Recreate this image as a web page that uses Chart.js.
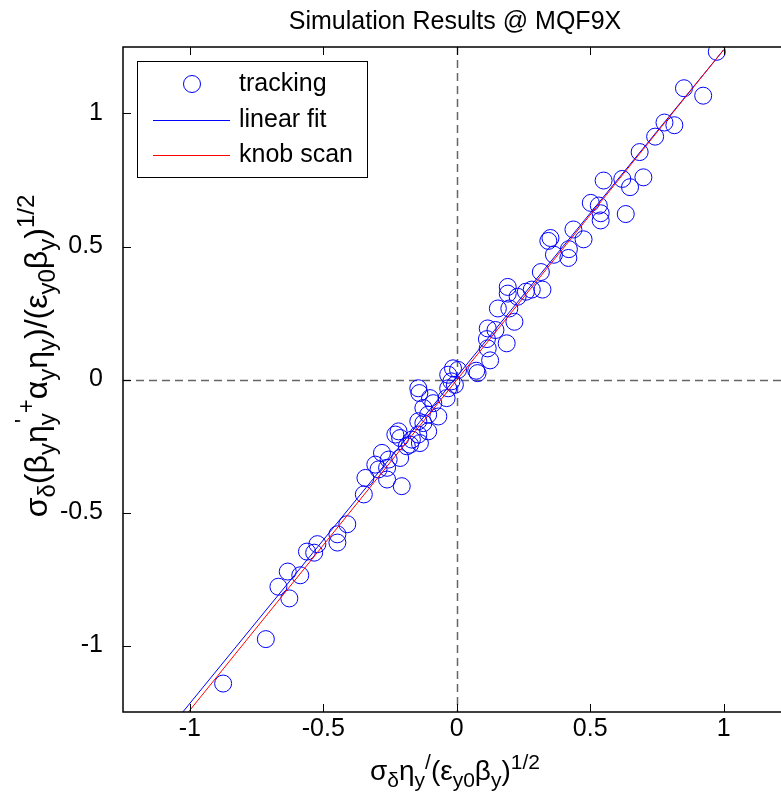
<!DOCTYPE html>
<html lang="en">
<head>
  <meta charset="UTF-8">
  <title>Simulation Results @ MQF9X</title>
  <script src="https://cdn.jsdelivr.net/npm/chart.js@4.4.1/dist/chart.umd.min.js"></script>
  <style>
    html, body {
      margin: 0;
      padding: 0;
      background: #fff;
      overflow: hidden;
    }

    .wrap {
      position: relative;
      width: 800px;
      height: 800px;
    }
  </style>
</head>
<body>

  <div class="wrap">
    <canvas id="scanChart" width="800" height="800"></canvas>
  </div>

  <script>
    // tracking results (normalised dispersion vs. normalised dispersion + slope)
    const trackX = [
      0.974, 0.851, 0.923, 0.778, 0.815, 0.743, 0.685, 0.550, 0.620, 0.649,
      0.699, 0.502, 0.532, 0.539, 0.539, 0.633, 0.437, 0.475, 0.351, 0.343,
      0.364, 0.420, 0.418, 0.315, 0.321, 0.281, 0.191, 0.191, 0.228, 0.259,
      0.154, 0.197, 0.216, 0.116, 0.145, 0.113, 0.116, 0.187, 0.125, 0.073,
      0.078, -0.014, 0.005, -0.032, -0.020, -0.007, -0.032, -0.144, -0.140, -0.100,
      -0.088, -0.038, -0.125, -0.069, -0.107, -0.125, -0.144, -0.107, -0.144, -0.138,
      -0.168, -0.175, -0.218, -0.230, -0.212, -0.187, -0.280, -0.255, -0.212, -0.261,
      -0.305, -0.293, -0.261, -0.206, -0.342, -0.348, -0.410, -0.447, -0.447, -0.522,
      -0.561, -0.534, -0.633, -0.586, -0.668, -0.627, -0.715, -0.875
    ];
    const trackY = [
      1.232, 1.095, 1.067, 0.966, 0.956, 0.913, 0.855, 0.748, 0.754, 0.723,
      0.760, 0.664, 0.654, 0.625, 0.598, 0.622, 0.564, 0.527, 0.532, 0.521,
      0.469, 0.490, 0.457, 0.404, 0.338, 0.338, 0.348, 0.323, 0.311, 0.330,
      0.267, 0.267, 0.217, 0.192, 0.186, 0.152, 0.117, 0.136, 0.072, 0.033,
      0.024, 0.042, 0.036, 0.018, -0.007, -0.020, -0.033, -0.033, -0.051, -0.070,
      -0.089, -0.070, -0.107, -0.139, -0.132, -0.164, -0.157, -0.195, -0.207, -0.239,
      -0.226, -0.245, -0.195, -0.207, -0.220, -0.251, -0.276, -0.301, -0.295, -0.332,
      -0.320, -0.338, -0.376, -0.401, -0.370, -0.432, -0.544, -0.582, -0.613, -0.619,
      -0.647, -0.651, -0.722, -0.736, -0.779, -0.823, -0.976, -1.143
    ];

    // end points of the two straight lines
    const fitX = [-1.026, 1.0];
    const fitY = [-1.25, 1.24];
    const knobX = [-1.005, 1.0];
    const knobY = [-1.25, 1.24];

    const xTicks = [-1, -0.5, 0, 0.5, 1];
    const yTicks = [-1, -0.5, 0, 0.5, 1];
    const xRange = [-1.25, 1.25];
    const yRange = [-1.25, 1.25];

    const FONT = '"Liberation Sans", Arial, Helvetica, sans-serif';

    // axis label pieces: [text, kind, stacked]  kind 0 normal, 1 subscript, 2 superscript
    const xLabelParts = [
      ['σ', 0], ['δ', 1], ['η', 0], ['y', 1], ['/', 2], ['(', 0], ['ε', 0],
      ['y0', 1], ['β', 0], ['y', 1], [')', 0], ['1/2', 2]
    ];
    const yLabelParts = [
      ['σ', 0], ['δ', 1], ['(', 0], ['β', 0], ['y', 1], ['η', 0], ['y', 1, "'"],
      ['+', 2], ['α', 0], ['y', 1], ['η', 0], ['y', 1], [')', 0], ['/', 0], ['(', 0],
      ['ε', 0], ['y0', 1], ['β', 0], ['y', 1], [')', 0], ['1/2', 2]
    ];

    // sz = [main size, script size, sub drop, sup rise]
    function drawRich(ctx, parts, cx, base, sz) {
      const font = k => (k ? sz[1] : sz[0]) + 'px ' + FONT;
      let total = 0;
      parts.forEach(p => {
        ctx.font = font(p[1]);
        total += ctx.measureText(p[0]).width;
      });
      let x = cx - total / 2;
      ctx.textAlign = 'left';
      ctx.textBaseline = 'alphabetic';
      parts.forEach(p => {
        ctx.font = font(p[1]);
        const dy = p[1] === 1 ? sz[2] : p[1] === 2 ? -sz[3] : 0;
        ctx.fillText(p[0], x, base + dy);
        if (p[2]) ctx.fillText(p[2], x + 2, base - sz[3] - 2);
        x += ctx.measureText(p[0]).width;
      });
    }

    function line(ctx, x1, y1, x2, y2) {
      ctx.beginPath();
      ctx.moveTo(x1, y1);
      ctx.lineTo(x2, y2);
      ctx.stroke();
    }

    const decor = {
      id: 'decor',
      beforeDatasetsDraw(chart) {
        const { ctx, chartArea: a, scales: { x, y } } = chart;
        const x0 = Math.round(x.getPixelForValue(0)) + 0.5;
        const y0 = Math.round(y.getPixelForValue(0)) + 0.5;
        ctx.save();
        ctx.strokeStyle = '#666';
        ctx.lineWidth = 1.5;
        ctx.setLineDash([8, 5]);
        line(ctx, a.left, y0, a.right, y0);
        line(ctx, x0, a.top, x0, a.bottom);
        ctx.restore();
      },
      afterDatasetsDraw(chart) {
        const { ctx, chartArea: a, scales: { x, y } } = chart;
        ctx.save();
        ctx.strokeStyle = '#000';
        ctx.lineWidth = 1.5;
        ctx.strokeRect(a.left, a.top, a.right - a.left, a.bottom - a.top);
        ctx.lineWidth = 1;
        const tl = 8;
        xTicks.forEach(v => {
          const px = Math.round(x.getPixelForValue(v)) + 0.5;
          line(ctx, px, a.bottom, px, a.bottom - tl);
          line(ctx, px, a.top, px, a.top + tl);
        });
        yTicks.forEach(v => {
          const py = Math.round(y.getPixelForValue(v)) + 0.5;
          line(ctx, a.left, py, a.left + tl, py);
          line(ctx, a.right, py, a.right - tl, py);
        });
        ctx.restore();
      },
      afterDraw(chart) {
        const { ctx } = chart;
        ctx.save();
        ctx.fillStyle = '#000';

        // title
        ctx.font = '25px ' + FONT;
        ctx.textAlign = 'center';
        ctx.textBaseline = 'alphabetic';
        ctx.fillText('Simulation Results @ MQF9X', 455, 29);

        // axis labels
        drawRich(ctx, xLabelParts, 455, 780, [28, 21, 7, 11]);
        ctx.save();
        ctx.translate(47, 356);
        ctx.rotate(-Math.PI / 2);
        drawRich(ctx, yLabelParts, 0, 0, [32, 24, 8, 13]);
        ctx.restore();

        // legend box
        ctx.fillStyle = '#fff';
        ctx.fillRect(137.5, 61.5, 230, 116);
        ctx.strokeStyle = '#000';
        ctx.lineWidth = 1;
        ctx.strokeRect(137.5, 61.5, 230, 116);

        ctx.strokeStyle = '#0000ff';
        ctx.beginPath();
        ctx.arc(192, 84, 8.5, 0, Math.PI * 2);
        ctx.stroke();
        line(ctx, 153, 120.5, 230, 120.5);
        ctx.strokeStyle = '#ff0000';
        line(ctx, 153, 155.5, 230, 155.5);

        ctx.fillStyle = '#000';
        ctx.font = '25px ' + FONT;
        ctx.textAlign = 'left';
        ctx.textBaseline = 'middle';
        ctx.fillText('tracking', 239, 84);
        ctx.fillText('linear fit', 239, 120);
        ctx.fillText('knob scan', 239, 155);
        ctx.restore();
      }
    };

    const toPoints = (xs, ys) => xs.map((v, i) => ({ x: v, y: ys[i] }));

    new Chart(document.getElementById('scanChart'), {
      type: 'scatter',
      data: {
        datasets: [
          {
            label: 'tracking',
            data: toPoints(trackX, trackY),
            pointStyle: 'circle',
            pointRadius: 8.5,
            pointBorderWidth: 1,
            borderColor: '#0000ff',
            backgroundColor: 'rgba(0,0,0,0)',
            order: 3
          },
          {
            label: 'linear fit',
            data: toPoints(fitX, fitY),
            showLine: true,
            pointRadius: 0,
            borderColor: '#0000ff',
            borderWidth: 1,
            order: 2
          },
          {
            label: 'knob scan',
            data: toPoints(knobX, knobY),
            showLine: true,
            pointRadius: 0,
            borderColor: '#ff0000',
            borderWidth: 1,
            order: 1
          }
        ]
      },
      options: {
        responsive: false,
        animation: false,
        events: [],
        layout: { padding: { top: 47, right: 7, left: 0, bottom: 0 } },
        plugins: {
          legend: { display: false },
          title: { display: false },
          tooltip: { enabled: false }
        },
        scales: {
          x: {
            type: 'linear',
            min: xRange[0],
            max: xRange[1],
            afterBuildTicks: s => { s.ticks = xTicks.map(v => ({ value: v })); },
            afterFit: s => { s.height = 88; },
            grid: { display: false, drawTicks: false },
            border: { display: false },
            ticks: {
              padding: 2,
              color: '#000',
              font: { family: FONT, size: 25 },
              callback: v => String(v)
            }
          },
          y: {
            type: 'linear',
            min: yRange[0],
            max: yRange[1],
            afterBuildTicks: s => { s.ticks = yTicks.map(v => ({ value: v })); },
            afterFit: s => { s.width = 123; },
            grid: { display: false, drawTicks: false },
            border: { display: false },
            ticks: {
              padding: 20,
              color: '#000',
              font: { family: FONT, size: 25 },
              callback: v => String(v)
            }
          }
        }
      },
      plugins: [decor]
    });
  </script>

</body>
</html>
